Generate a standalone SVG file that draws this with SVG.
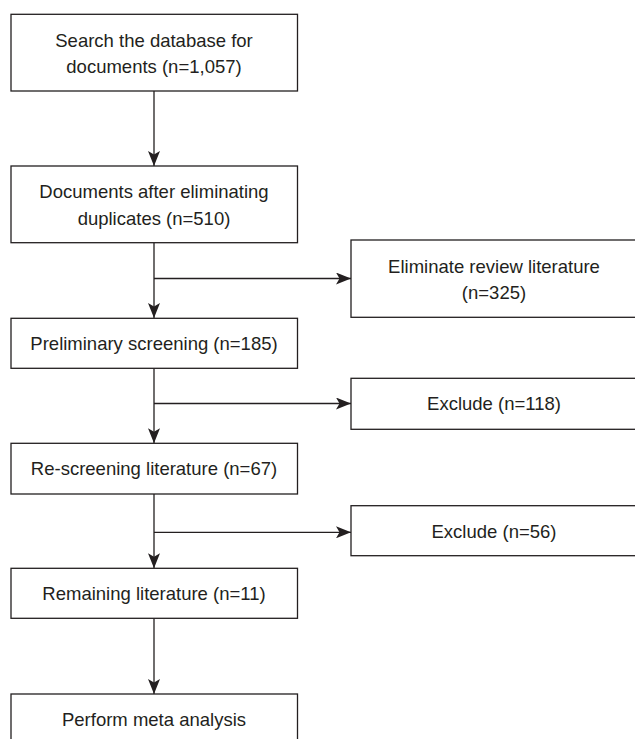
<svg xmlns="http://www.w3.org/2000/svg" width="635" height="739" viewBox="0 0 635 739">
<style>
.box{fill:#ffffff;stroke:#231f20;stroke-width:1.3}
.lbl{font-family:"Liberation Sans",Arial,sans-serif;font-size:18.5px;fill:#231f20;text-anchor:middle}
.conn{fill:none;stroke:#231f20;stroke-width:1.3}
</style>
<defs>
<marker id="arrow" markerUnits="userSpaceOnUse" markerWidth="16" markerHeight="12" viewBox="0 0 16 12" refX="15" refY="6" orient="auto">
<path d="M0,0 L15,6 L0,12 L3.5,6 Z" fill="#231f20"/>
</marker>
</defs>
<rect width="635" height="739" fill="#ffffff"/>
<g id="connectors">
<line class="conn" x1="154" y1="91" x2="154" y2="166" marker-end="url(#arrow)"/>
<line class="conn" x1="154" y1="243" x2="154" y2="318" marker-end="url(#arrow)"/>
<line class="conn" x1="154" y1="278.5" x2="351" y2="278.5" marker-end="url(#arrow)"/>
<line class="conn" x1="154" y1="368.3" x2="154" y2="443.3" marker-end="url(#arrow)"/>
<line class="conn" x1="154" y1="403.5" x2="351" y2="403.5" marker-end="url(#arrow)"/>
<line class="conn" x1="154" y1="494" x2="154" y2="568.3" marker-end="url(#arrow)"/>
<line class="conn" x1="154" y1="532.3" x2="351" y2="532.3" marker-end="url(#arrow)"/>
<line class="conn" x1="154" y1="618.3" x2="154" y2="694" marker-end="url(#arrow)"/>
</g>
<g id="search">
<rect class="box" x="11" y="14.3" width="286.5" height="76.7"/>
<text class="lbl" x="154" y="46.7">Search the database for</text>
<text class="lbl" x="154" y="73.4">documents (n=1,057)</text>
</g>
<g id="dedup">
<rect class="box" x="11" y="166" width="286.5" height="76.7"/>
<text class="lbl" x="154" y="198.4">Documents after eliminating</text>
<text class="lbl" x="154" y="225.1">duplicates (n=510)</text>
</g>
<g id="review">
<rect class="box" x="351" y="240" width="286" height="77.3"/>
<text class="lbl" x="494" y="272.5">Eliminate review literature</text>
<text class="lbl" x="494" y="299.2">(n=325)</text>
</g>
<g id="prelim">
<rect class="box" x="11" y="318.3" width="286.5" height="50"/>
<text class="lbl" x="154" y="350">Preliminary screening (n=185)</text>
</g>
<g id="exclude118">
<rect class="box" x="351" y="378.3" width="286" height="51"/>
<text class="lbl" x="494" y="410.3">Exclude (n=118)</text>
</g>
<g id="rescreen">
<rect class="box" x="11" y="443.3" width="286.5" height="50.7"/>
<text class="lbl" x="154" y="475">Re-screening literature (n=67)</text>
</g>
<g id="exclude56">
<rect class="box" x="351" y="505.7" width="286" height="50"/>
<text class="lbl" x="494" y="537.5">Exclude (n=56)</text>
</g>
<g id="remaining">
<rect class="box" x="11" y="568.3" width="286.5" height="50"/>
<text class="lbl" x="154" y="600">Remaining literature (n=11)</text>
</g>
<g id="meta">
<rect class="box" x="11" y="694" width="286.5" height="60"/>
<text class="lbl" x="154" y="726">Perform meta analysis</text>
</g>
</svg>
